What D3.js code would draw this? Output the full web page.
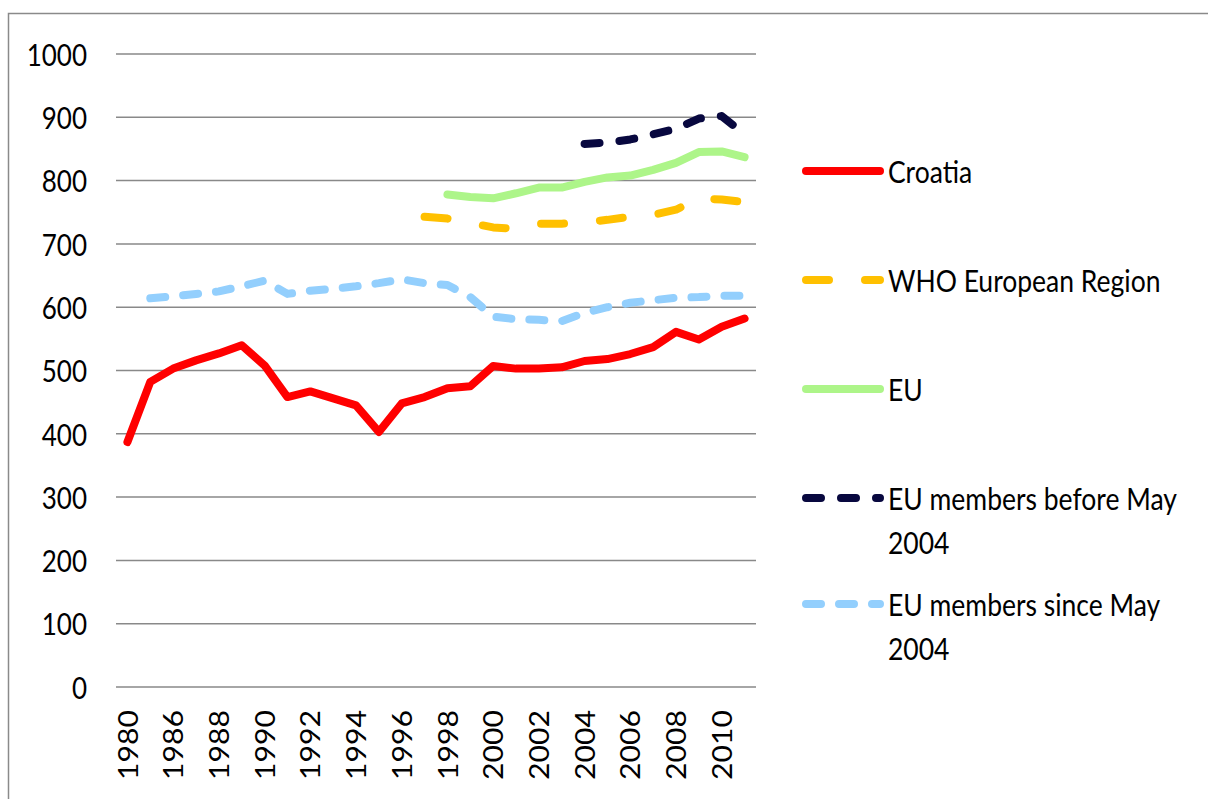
<!DOCTYPE html>
<html>
  <head>
    <meta charset="utf-8">
    <script src="https://cdn.jsdelivr.net/npm/d3@7"></script>
    <style type="text/css">
      html, body { margin: 0; background: #fff; overflow: hidden; }
      svg { display: block; }
      text { font-family: Lato, "Open Sans", sans-serif; fill: #000; }
      .grid line { stroke: #898989; stroke-width: 1.5; }
      .line { fill: none; stroke-width: 8; stroke-linejoin: round; stroke-linecap: round; }
    </style>
  </head>
  <body>
    <div class="plot_canvas"></div>
    <script>

      // categories (note the jump from 1980 to 1985)
      var years = ["1980", "1985", "1986", "1987", "1988", "1989", "1990", "1991", "1992", "1993",
                   "1994", "1995", "1996", "1997", "1998", "1999", "2000", "2001", "2002", "2003",
                   "2004", "2005", "2006", "2007", "2008", "2009", "2010", "2011"];
      var xLabels = ["1980", "1986", "1988", "1990", "1992", "1994", "1996", "1998",
                     "2000", "2002", "2004", "2006", "2008", "2010"];
      var yTicks = [0, 100, 200, 300, 400, 500, 600, 700, 800, 900, 1000];

      var croatia = [387, 482, 503, 516, 527, 540, 508, 458, 467, 456, 445, 403, 448, 458,
                     472, 475, 507, 503, 503, 505, 515, 518, 526, 537, 561, 549, 569, 582];
      var who = [null, null, null, null, null, null, null, null, null, null, null, null, null,
                 743, 740, 733, 726, 724, 732, 732, 734, 738, 743, 746, 754, 772, 770, 766];
      var eu = [null, null, null, null, null, null, null, null, null, null, null, null, null, null,
                778, 774, 772, 780, 789, 789, 798, 805, 808, 817, 828, 845, 846, 837];
      var euBefore = [null, null, null, null, null, null, null, null, null, null, null, null, null, null,
                      null, null, null, null, null, null, 858, 860, 865, 873, 882, 898, 902, 873];
      var euSince = [null, 614, 617, 621, 625, 633, 642, 621, 626, 629, 633, 638, 644, 638,
                     635, 616, 585, 581, 580, 578, 591, 600, 607, 611, 615, 616, 618, 618];

      var series = [
        {name: ["Croatia"], values: croatia, color: "#ff0000", dash: null},
        {name: ["WHO European Region"], values: who, color: "#ffc000", dash: "23,36"},
        {name: ["EU"], values: eu, color: "#adf589", dash: null},
        {name: ["EU members before May", "2004"], values: euBefore, color: "#08083f", dash: "15,20"},
        {name: ["EU members since May", "2004"], values: euSince, color: "#93cffd", dash: "15,18"}
      ];

      var width = 1208;
      var height = 799;
      var plot = {left: 116, right: 756, top: 54, bottom: 687};
      var stretch = 1.16;  // the source picture is a bit taller than wide

      var xScale = d3.scalePoint()
      .domain(years)
      .range([plot.left, plot.right])
      .padding(0.5);

      var yScale = d3.scaleLinear()
      .domain([0, 1000])
      .range([plot.bottom, plot.top]);

      var svg = d3.select(".plot_canvas")
      .append("svg")
      .attr("width", width)
      .attr("height", height);

      // outer frame: only top and left edges are visible
      svg.append("path")
      .attr("d", "M8.5," + height + "V13.5H" + width)
      .attr("fill", "none")
      .attr("stroke", "#8a8a8a")
      .attr("stroke-width", 1.5);

      svg.append("g")
      .attr("class", "grid")
      .selectAll("line")
      .data(yTicks).enter()
      .append("line")
      .attr("x1", plot.left)
      .attr("x2", plot.right)
      .attr("y1", function(d) { return yScale(d); })
      .attr("y2", function(d) { return yScale(d); });

      svg.append("g")
      .selectAll("text")
      .data(yTicks).enter()
      .append("text")
      .attr("transform", function(d) { return "translate(87," + yScale(d) + ") scale(1," + stretch + ")"; })
      .attr("text-anchor", "end")
      .attr("dominant-baseline", "central")
      .style("font-size", "26px")
      .text(function(d) { return d; });

      svg.append("g")
      .selectAll("text")
      .data(xLabels).enter()
      .append("text")
      .attr("transform", function(d) { return "translate(" + xScale(d) + ",710) scale(1," + stretch + ") rotate(-90)"; })
      .attr("text-anchor", "end")
      .attr("dominant-baseline", "central")
      .style("font-size", "26px")
      .text(function(d) { return d; });

      var line = d3.line()
      .defined(function(d) { return d != null; })
      .x(function(d, i) { return xScale(years[i]); })
      .y(function(d) { return yScale(d); });

      // draw back to front so red sits on top
      svg.append("g")
      .selectAll("path")
      .data(series.slice().reverse()).enter()
      .append("path")
      .attr("class", "line")
      .attr("stroke", function(d) { return d.color; })
      .attr("stroke-dasharray", function(d) { return d.dash; })
      .attr("d", function(d) { return line(d.values); });

      // legend
      var legendY = [171, 280, 389, 498, 604];
      var legend = svg.append("g")
      .selectAll("g")
      .data(series).enter()
      .append("g")
      .attr("transform", function(d, i) { return "translate(0," + legendY[i] + ")"; });

      legend.append("line")
      .attr("class", "line")
      .attr("x1", 806)
      .attr("x2", 880)
      .attr("stroke", function(d) { return d.color; })
      .attr("stroke-dasharray", function(d) { return d.dash; });

      legend.each(function(d) {
        var g = d3.select(this);
        d.name.forEach(function(s, k) {
          g.append("text")
          .attr("transform", "translate(888," + (11.5 + k * 44) + ") scale(1," + stretch + ")")
          .style("font-size", "26.5px")
          .text(s);
        });
      });

    </script>
  </body>
</html>
